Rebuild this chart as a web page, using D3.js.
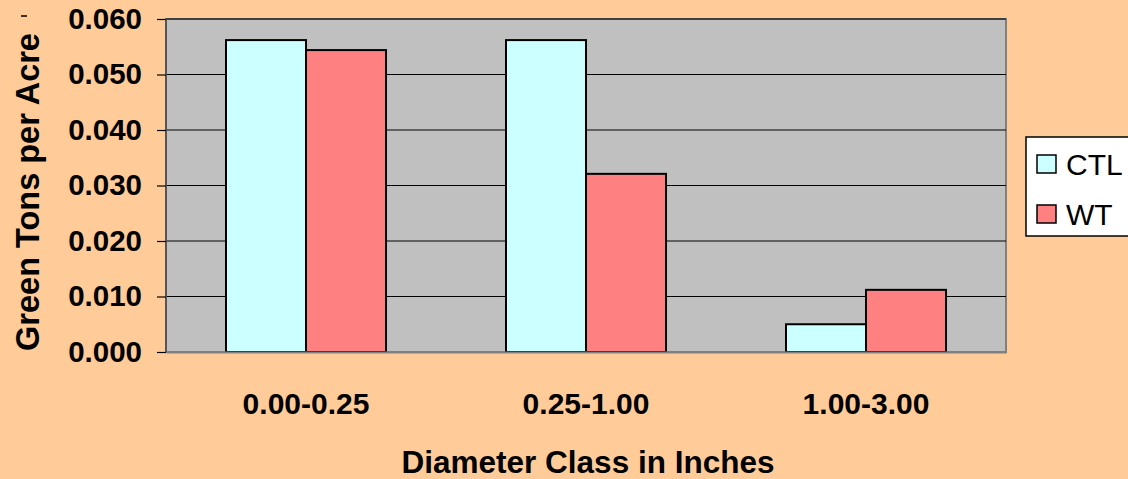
<!DOCTYPE html>
<html><head><meta charset="utf-8">
<script src="https://cdn.jsdelivr.net/npm/d3@7"></script>
<style>body{margin:0;background:#FFCC99;}svg{display:block;font-family:Arial,"Liberation Sans",sans-serif;}</style>
</head><body>
<svg id="c" width="1128" height="479"></svg>
<script>
const categories = ["0.00-0.25", "0.25-1.00", "1.00-3.00"];
const seriesNames = ["CTL", "WT"];
const ctlValues = [0.0562, 0.0562, 0.0050];
const wtValues = [0.0544, 0.0321, 0.0112];
const yTicks = [0, 0.01, 0.02, 0.03, 0.04, 0.05, 0.06];
const colors = ["#CCFFFF", "#FF8080"];

const FF = "Arial,'Liberation Sans',sans-serif";
const svg = d3.select("#c");
const L = 166, R = 1006, T = 19, B = 352;
svg.append("rect").attr("width",1128).attr("height",479).attr("fill","#FFCC99");
const x = d3.scaleBand().domain(categories).range([L, R]).paddingInner(0).paddingOuter(0);
const xs = d3.scaleBand().domain(seriesNames).range([0, x.bandwidth()]).paddingInner(0).paddingOuter(0.75);
const y = d3.scaleLinear().domain([0, 0.06]).range([B, T]);

svg.append("rect").attr("x",L).attr("y",T).attr("width",R-L).attr("height",B-T)
  .attr("fill","#C0C0C0").attr("stroke","#808080").attr("stroke-width",2);

// gridlines
svg.append("g").selectAll("line").data(yTicks.filter(d=>d>0)).join("line")
  .attr("x1",L).attr("x2",R).attr("y1",d=>y(d)).attr("y2",d=>y(d))
  .attr("stroke","#000").attr("stroke-width",1.2);

const data = categories.map((c,i)=>({c, vals:[ctlValues[i], wtValues[i]]}));
const g = svg.append("g");
data.forEach(d=>{
  d.vals.forEach((v,j)=>{
    g.append("rect").attr("x", x(d.c)+xs(seriesNames[j])).attr("y", y(v))
      .attr("width", xs.bandwidth()).attr("height", y(0)-y(v))
      .attr("fill", colors[j]).attr("stroke","#000").attr("stroke-width",2);
  });
});

// y axis
const yAxis = d3.axisLeft(y).tickValues(yTicks).tickFormat(d3.format(".3f")).tickSize(9).tickPadding(15);
const ya = svg.append("g").attr("transform",`translate(${L},0)`).call(yAxis);
ya.select(".domain").attr("stroke","#555").attr("stroke-width",2).attr("d",`M0,${T}V${B}`);
ya.selectAll(".tick line").attr("stroke","#000").attr("stroke-width",1.2);
ya.selectAll("text").attr("font-size",29.5).attr("font-weight","bold").attr("fill","#000")
  .attr("font-family",FF);

// x axis labels
const xAxis = d3.axisBottom(x).tickSize(0).tickPadding(41);
const xa = svg.append("g").attr("transform",`translate(0,${B})`).call(xAxis);
xa.select(".domain").attr("stroke","#808080").attr("stroke-width",2);
xa.selectAll("text").attr("font-size",30).attr("font-weight","bold").attr("fill","#000")
  .attr("font-family",FF);

svg.append("text").attr("x",(L+R)/2 + 2).attr("y",473).attr("text-anchor","middle")
  .attr("font-size",31.5).attr("font-weight","bold").text("Diameter Class in Inches");
svg.append("text").attr("transform","translate(39,192) rotate(-90)").attr("text-anchor","middle")
  .attr("font-size",32.5).attr("font-weight","bold").text("Green Tons per Acre");
svg.append("line").attr("x1",21).attr("x2",27).attr("y1",16).attr("y2",16).attr("stroke","#000").attr("stroke-width",1.5);

// legend
const lg = svg.append("g");
lg.append("rect").attr("x",1026).attr("y",137).attr("width",110).attr("height",99)
  .attr("fill","#fff").attr("stroke","#000").attr("stroke-width",1.5);
seriesNames.forEach((s,i)=>{
  const yy = 155 + i*50;
  lg.append("rect").attr("x",1037).attr("y",yy).attr("width",19).attr("height",18)
    .attr("fill",colors[i]).attr("stroke","#000").attr("stroke-width",1.5);
  lg.append("text").attr("x",1066).attr("y",yy+20).attr("font-size",30).text(s);
});
</script>
</body></html>
